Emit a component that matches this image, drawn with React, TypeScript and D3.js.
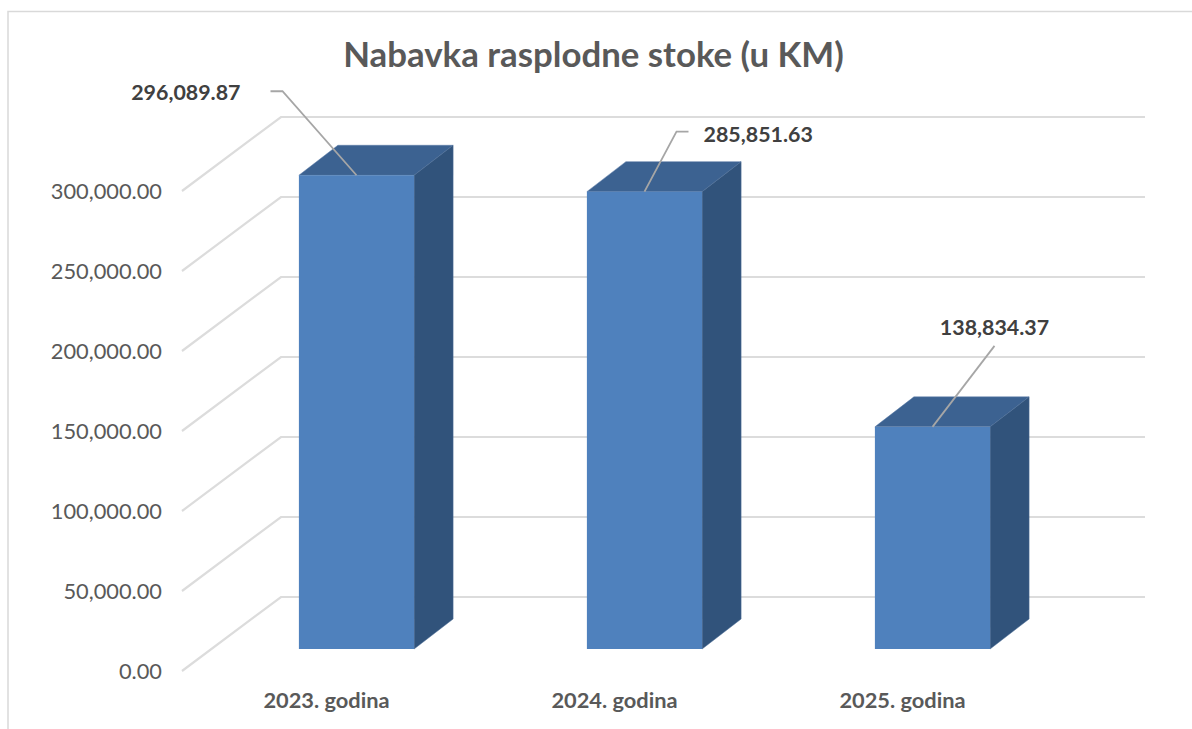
import React, { useEffect, useRef } from 'react';
import * as d3 from 'd3';

const title = 'Nabavka rasplodne stoke (u KM)';
const categories = ['2023. godina', '2024. godina', '2025. godina'];
const values = [296089.87, 285851.63, 138834.37];
const ticks = [0, 50000, 100000, 150000, 200000, 250000, 300000];

const fontFamily = 'Lato, Carlito, "Open Sans", sans-serif';

// leader lines, relative to the middle of each bar's top edge
const leaders = [
  { points: [[0, 0], [-74, -84], [-86, -84]], labelDx: -116, labelDy: -75, anchor: 'end' },
  { points: [[0, 0], [32, -60], [44, -60]], labelDx: 59, labelDy: -50, anchor: 'start' },
  { points: [[0, 0], [62, -81]], labelDx: 62, labelDy: -92, anchor: 'middle' },
];

const App = () => {
  const svgRef = useRef<SVGSVGElement>(null);

  useEffect(() => {
    const width = 1192;
    const height = 729;
    const depthX = 39;
    const depthY = 30;

    svgRef.current!.innerHTML = '';

    const svg = d3.select(svgRef.current)
      .attr('width', width)
      .attr('height', height)
      .style('position', 'absolute')
      .style('left', 0)
      .style('top', 0)
      .style('background', '#fff');

    const xScale = d3.scaleBand()
      .domain(categories)
      .range([212.5, 1076.5])
      .paddingInner(0.6)
      .paddingOuter(0.3);

    // bars stand on the floor, halfway between the axis plane and the back wall
    const yBar = d3.scaleLinear().domain([0, 50000]).range([649, 569]);
    const yWall = d3.scaleLinear().domain([0, 50000]).range([597, 517]);
    const yAxis = d3.scaleLinear().domain([0, 50000]).range([671, 591]);

    // chart frame, only left and top show in the crop
    svg.append('path')
      .attr('d', `M8,${height} V11.5 H${width}`)
      .attr('fill', 'none')
      .attr('stroke', '#d9d9d9')
      .attr('stroke-width', 1.5);

    svg.append('text')
      .attr('x', 593.5)
      .attr('y', 67)
      .attr('text-anchor', 'middle')
      .attr('font-family', fontFamily)
      .attr('font-weight', 700)
      .attr('font-size', 34.8)
      .attr('fill', '#595959')
      .text(title);

    const grid = svg.append('g')
      .attr('fill', 'none')
      .attr('stroke', '#dcdcdc')
      .attr('stroke-width', 2.2);

    grid.selectAll('path')
      .data(ticks)
      .enter().append('path')
      .attr('d', d => `M182,${yAxis(d)} L281,${yWall(d)} H1145`);

    svg.append('g')
      .selectAll('text')
      .data(ticks)
      .enter().append('text')
      .attr('x', 162)
      .attr('y', d => yAxis(d) + 7.5)
      .attr('text-anchor', 'end')
      .attr('font-family', fontFamily)
      .attr('font-size', 21.8)
      .attr('fill', '#595959')
      .text(d => d3.format(',.2f')(d));

    const bars = svg.selectAll('g.bar')
      .data(values)
      .enter().append('g')
      .attr('class', 'bar');

    const barX = (i: number) => xScale(categories[i])!;
    const bw = xScale.bandwidth();

    // top face
    bars.append('path')
      .attr('d', (d, i) => {
        const x = barX(i);
        const y = yBar(d);
        return `M${x},${y} l${depthX},${-depthY} h${bw} l${-depthX},${depthY} Z`;
      })
      .attr('fill', '#3c6291')
      .attr('stroke', '#5a7ba6')
      .attr('stroke-width', 0.5);

    // side face
    bars.append('path')
      .attr('d', (d, i) => {
        const x = barX(i) + bw;
        const y = yBar(d);
        return `M${x},${y} l${depthX},${-depthY} V${yBar(0) - depthY} L${x},${yBar(0)} Z`;
      })
      .attr('fill', '#31537b')
      .attr('stroke', '#4a6c97')
      .attr('stroke-width', 0.5);

    // front face
    bars.append('rect')
      .attr('x', (d, i) => barX(i))
      .attr('y', d => yBar(d))
      .attr('width', bw)
      .attr('height', d => yBar(0) - yBar(d))
      .attr('fill', '#4f81bd');

    const leaderLine = d3.line();

    bars.append('path')
      .attr('d', (d, i) => {
        const cx = barX(i) + bw / 2;
        const y = yBar(d);
        return leaderLine(leaders[i].points.map(p => [cx + p[0], y + p[1]] as [number, number]));
      })
      .attr('fill', 'none')
      .attr('stroke', '#a6a6a6')
      .attr('stroke-width', 1.8);

    bars.append('text')
      .attr('x', (d, i) => barX(i) + bw / 2 + leaders[i].labelDx)
      .attr('y', (d, i) => yBar(d) + leaders[i].labelDy)
      .attr('text-anchor', (d, i) => leaders[i].anchor)
      .attr('font-family', fontFamily)
      .attr('font-weight', 700)
      .attr('font-size', 21.4)
      .attr('fill', '#404040')
      .text(d => d3.format(',.2f')(d));

    svg.append('g')
      .selectAll('text')
      .data(categories)
      .enter().append('text')
      .attr('x', d => xScale(d)! + bw / 2 - 30)
      .attr('y', 708)
      .attr('text-anchor', 'middle')
      .attr('font-family', fontFamily)
      .attr('font-weight', 700)
      .attr('font-size', 21.8)
      .attr('fill', '#595959')
      .text(d => d);
  }, []);

  return (
    <svg ref={svgRef}></svg>
  );
};

export default App;
